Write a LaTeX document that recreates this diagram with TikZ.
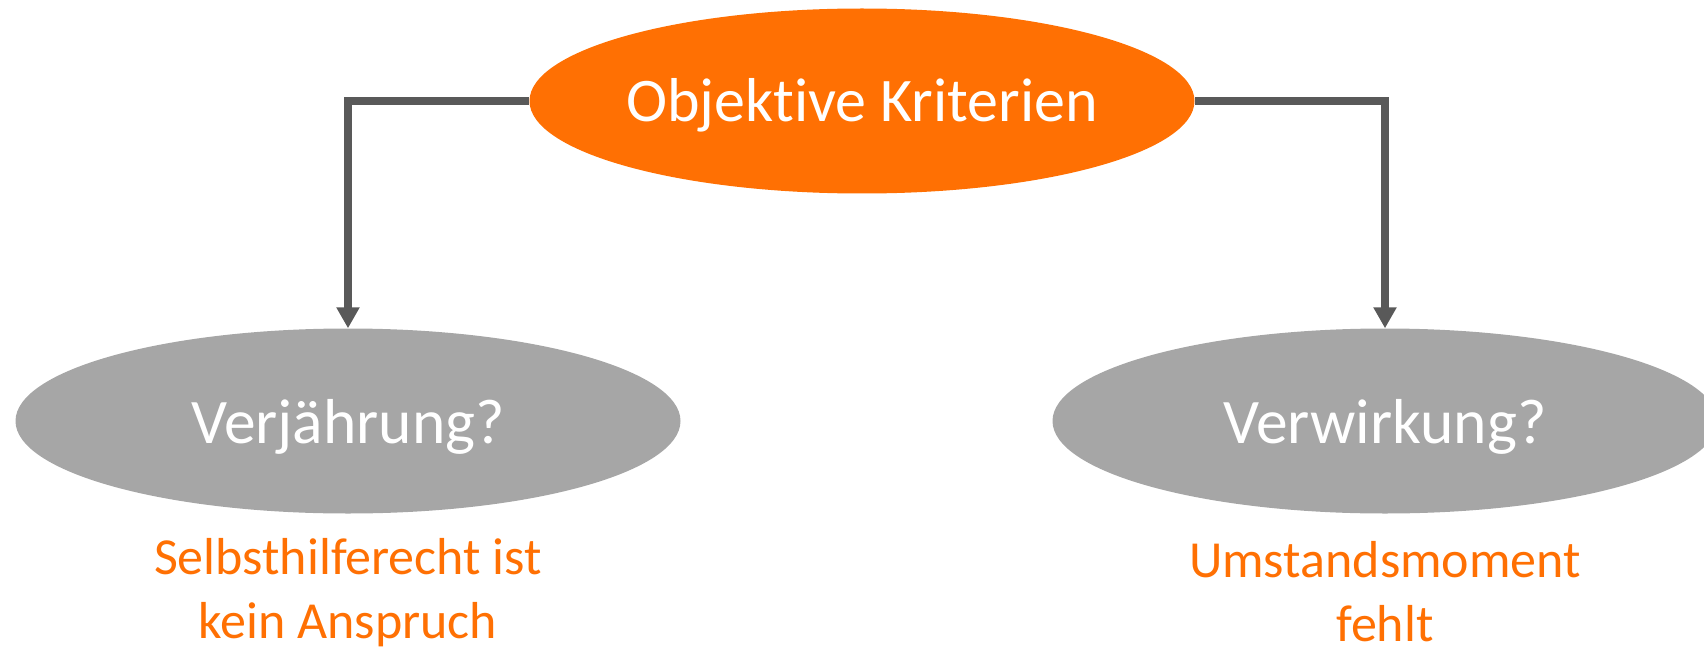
\documentclass[tikz,border=0pt]{standalone}
\usepackage{fontspec}
\setmainfont{Carlito}[Ligatures=NoCommon]
\usetikzlibrary{shapes.geometric,arrows.meta}
\definecolor{kOrange}{RGB}{255,112,3}
\definecolor{kGrey}{RGB}{166,166,166}
\definecolor{kLine}{RGB}{89,89,89}
\tikzset{
  oval/.style={ellipse, minimum width=665pt, minimum height=185pt, inner sep=0pt, draw=none},
  topoval/.style={oval, fill=kOrange},
  greyoval/.style={oval, fill=kGrey},
  ovaltext/.style={anchor=base, text=white, inner sep=0pt},
  notetext/.style={anchor=base, text=kOrange, inner sep=0pt, align=center,
    font=\fontsize{52}{64}\selectfont},
  conn/.style={draw=kLine, line width=7.5pt, -{Triangle[width=22pt,length=21pt]}}
}
\begin{document}
\begin{tikzpicture}[x=1pt,y=-1pt]
  \useasboundingbox (0,0) rectangle (1704,647);
  \clip (0,0) rectangle (1704,647);

  % ellipses
  \node[topoval]  (top)   at (862,101) {};
  \node[greyoval] (left)  at (348,421) {};
  \node[greyoval] (right) at (1385,421) {};

  % connectors
  \draw[conn] (top.west) -| (left.north);
  \draw[conn] (top.east) -| (right.north);

  % labels inside the ellipses
  \node[ovaltext, font=\fontsize{62}{70}\selectfont] (topText) at (862,122) {Objektive Kriterien};
  \node[ovaltext, font=\fontsize{63.5}{70}\selectfont] (leftText) at (348,443) {Verjährung?};
  \node[ovaltext, font=\fontsize{63.5}{70}\selectfont] (rightText) at (1385,443) {Verwirkung?};

  % notes below (base anchor sits on the last line)
  \node[notetext] (leftNote) at (348,638) {Selbsthilferecht ist\\kein Anspruch};
  \node[notetext] (rightNote) at (1385,641) {Umstandsmoment\\fehlt};
\end{tikzpicture}
\end{document}
